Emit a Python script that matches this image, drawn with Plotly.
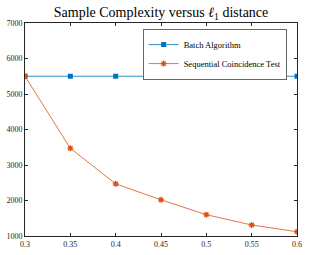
import plotly.graph_objects as go

x_vals = [0.3, 0.35, 0.4, 0.45, 0.5, 0.55, 0.6]
batch = [5500, 5500, 5500, 5500, 5500, 5500, 5500]
sequential = [5500, 3470, 2470, 2020, 1600, 1310, 1120]
x_ticks = [0.3, 0.35, 0.4, 0.45, 0.5, 0.55, 0.6]
x_tick_text = ["0.3", "0.35", "0.4", "0.45", "0.5", "0.55", "0.6"]
y_ticks = [1000, 2000, 3000, 4000, 5000, 6000, 7000]

font_family = "Liberation Serif"
text_color = "#262626"

fig = go.Figure()
fig.add_trace(go.Scatter(
    x=x_vals, y=batch, mode="lines+markers", name="Batch Algorithm",
    line=dict(color="#0072BD", width=0.8),
    marker=dict(symbol="square", size=5, color="#0072BD"),
))
fig.add_trace(go.Scatter(
    x=x_vals, y=sequential, mode="lines+markers", name="Sequential Coincidence Test",
    line=dict(color="#D95319", width=0.8),
    marker=dict(symbol="asterisk-open", size=5, color="#D95319", line=dict(width=1.3, color="#D95319")),
))

fig.update_layout(
    width=317, height=255,
    margin=dict(l=25, r=20, t=23, b=19, autoexpand=False),
    paper_bgcolor="white", plot_bgcolor="white",
    font=dict(family=font_family, size=8, color=text_color),
    title=dict(text="Sample Complexity versus <i>ℓ</i><sub>1</sub> distance",
               x=0.508, xanchor="center", y=0.952, yanchor="middle",
               font=dict(family=font_family, size=14, color="black")),
    showlegend=True,
    legend=dict(x=0.963, xanchor="right", y=0.97, yanchor="top",
                bgcolor="white", bordercolor=text_color, borderwidth=0.7,
                font=dict(family=font_family, size=8.5, color="black"),
                tracegroupgap=0, itemwidth=30),
)
fig.update_xaxes(
    range=[0.3, 0.6], tickvals=x_ticks, ticktext=x_tick_text, automargin=False,
    showgrid=False, zeroline=False, showline=True, mirror="ticks",
    linecolor=text_color, linewidth=0.8, ticks="inside", ticklen=3,
    tickcolor=text_color, tickfont=dict(size=8, family=font_family, color=text_color),
)
fig.update_yaxes(
    range=[1000, 7000], tickvals=y_ticks, automargin=False,
    showgrid=False, zeroline=False, showline=True, mirror="ticks",
    linecolor=text_color, linewidth=0.8, ticks="inside", ticklen=3,
    tickcolor=text_color, tickfont=dict(size=8, family=font_family, color=text_color),
)

fig.write_html("out.html", config={"displayModeBar": False},
               post_script="document.body.style.margin='0';")
